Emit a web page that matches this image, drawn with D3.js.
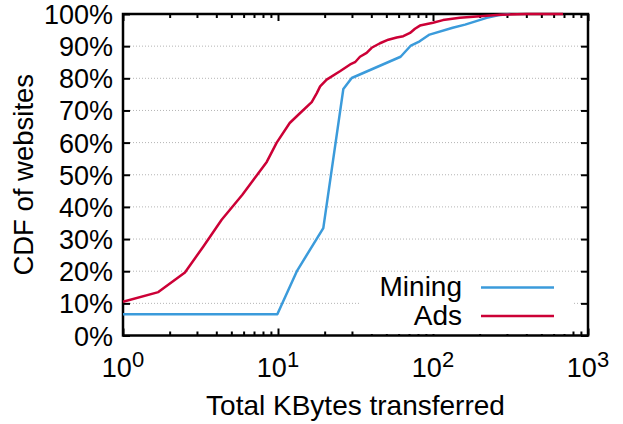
<!DOCTYPE html>
<html><head><meta charset="utf-8">
<script src="https://cdn.jsdelivr.net/npm/d3@7"></script>
<style>
body{margin:0;background:#fff}
svg{display:block}
text{font-family:"Liberation Sans",Arial,Helvetica,sans-serif;fill:#000}
</style>
</head><body>
<svg id="chart" width="623" height="424"></svg>
<script>
// ---- data ----
const seriesNames = ["Mining", "Ads"];
const seriesColors = ["#3b9bdb", "#cc0036"];
const miningKB  = [1, 9.9, 13.3, 19.6, 26.4, 29.9, 61.8, 72, 82, 95, 134, 161, 222, 263, 316];
const miningCDF = [6.6, 6.6, 20.2, 33.4, 76.7, 80.1, 86.7, 90.2, 91.5, 93.6, 95.7, 96.7, 98.8, 99.6, 100];
const adsKB  = [1, 1.69, 2.51, 3.30, 4.33, 5.89, 6.93, 8.46, 9.81, 11.9, 13.9, 16.5, 17.8, 18.7, 20.6, 25.1, 29.2, 31.4, 33.8, 37.3, 40.2, 45.5, 51.5, 58.3, 64.3, 71.1, 76.5, 82.4, 100, 116, 149, 201, 271, 402, 690];
const adsCDF = [10.5, 13.5, 19.6, 27.7, 36.0, 43.8, 48.4, 54.0, 60.0, 66.1, 69.2, 72.6, 75.4, 77.5, 79.6, 82.2, 84.3, 85.0, 86.7, 87.9, 89.5, 90.9, 92.0, 92.7, 93.1, 94.1, 95.4, 96.4, 97.3, 98.1, 98.8, 99.3, 99.8, 100, 100];
const xTickValues = [1, 10, 100, 1000];
const xTickExponents = ["0", "1", "2", "3"];
const xMinorValues = [2,3,4,5,6,7,8,9,20,30,40,50,60,70,80,90,200,300,400,500,600,700,800,900];
const yTickValues = [0, 10, 20, 30, 40, 50, 60, 70, 80, 90, 100];
const xTitle = "Total KBytes transferred";
const yTitle = "CDF of websites";

// ---- layout ----
const L = 123, R = 588, T = 14, B = 335.5;
const svg = d3.select("#chart");
const x = d3.scaleLog().domain([1, 1000]).range([L, R]);
const y = d3.scaleLinear().domain([0, 100]).range([B, T]);

// grid
svg.append("g").selectAll("line")
  .data(yTickValues.filter(v => v > 0 && v < 100))
  .join("line")
  .attr("x1", L + 7).attr("x2", R - 7)
  .attr("y1", d => y(d)).attr("y2", d => y(d))
  .attr("stroke", "#b4b4b4").attr("stroke-width", 1)
  .attr("stroke-dasharray", "1,2");

// axes ticks (inward)
function styleAxis(g) {
  g.select(".domain").remove();
  g.selectAll(".tick line").attr("stroke", "#000").attr("stroke-width", 2);
}
svg.append("g").attr("transform", `translate(${L},0)`)
  .call(d3.axisLeft(y).tickValues(yTickValues).tickSize(-7).tickFormat("")).call(styleAxis);
svg.append("g").attr("transform", `translate(${R},0)`)
  .call(d3.axisRight(y).tickValues(yTickValues).tickSize(-7).tickFormat("")).call(styleAxis);
svg.append("g").attr("transform", `translate(0,${B})`)
  .call(d3.axisBottom(x).tickValues(xTickValues).tickSize(-7).tickFormat("")).call(styleAxis);
svg.append("g").attr("transform", `translate(0,${T})`)
  .call(d3.axisTop(x).tickValues(xTickValues).tickSize(-7).tickFormat("")).call(styleAxis);
svg.append("g").attr("transform", `translate(0,${B})`)
  .call(d3.axisBottom(x).tickValues(xMinorValues).tickSize(-4).tickFormat("")).call(styleAxis);
svg.append("g").attr("transform", `translate(0,${T})`)
  .call(d3.axisTop(x).tickValues(xMinorValues).tickSize(-4).tickFormat("")).call(styleAxis);

// legend background
svg.append("rect").attr("x", 361).attr("y", 275).attr("width", 211).attr("height", 59).attr("fill", "#fff");

// frame
svg.append("rect").attr("x", L).attr("y", T).attr("width", R - L).attr("height", B - T)
  .attr("fill", "none").attr("stroke", "#000").attr("stroke-width", 2.5);

// tick labels
svg.append("g").selectAll("text").data(yTickValues).join("text")
  .attr("x", L - 10).attr("y", d => y(d) + 10)
  .attr("text-anchor", "end").attr("font-size", 27)
  .text(d => d + "%");

const xl = svg.append("g").selectAll("text").data(xTickValues).join("text")
  .attr("x", d => x(d)).attr("y", 377)
  .attr("text-anchor", "middle").attr("font-size", 27);
xl.append("tspan").text("10");
xl.append("tspan").attr("dy", -10).attr("font-size", 22).text((d, i) => xTickExponents[i]);

// titles
svg.append("text").attr("x", (L + R) / 2).attr("y", 415).attr("text-anchor", "middle")
  .attr("font-size", 28).text(xTitle);
svg.append("text").attr("transform", `translate(33,${(T + B) / 2}) rotate(-90)`)
  .attr("text-anchor", "middle").attr("font-size", 27.5).text(yTitle);

// lines
const line = d3.line().x(d => x(d[0])).y(d => y(d[1]));
const series = [
  d3.zip(miningKB, miningCDF),
  d3.zip(adsKB, adsCDF)
];
series.forEach((s, i) => {
  svg.append("path").datum(s).attr("d", line)
    .attr("fill", "none").attr("stroke", seriesColors[i])
    .attr("stroke-width", 2.5).attr("stroke-linejoin", "round");
});

// legend
const legendY = [287.5, 316];
seriesNames.forEach((n, i) => {
  svg.append("text").attr("x", 462).attr("y", legendY[i] + 8.5)
    .attr("text-anchor", "end").attr("font-size", 28).text(n);
  svg.append("line").attr("x1", 481).attr("x2", 554)
    .attr("y1", legendY[i]).attr("y2", legendY[i])
    .attr("stroke", seriesColors[i]).attr("stroke-width", 2.5);
});
</script>
</body></html>
